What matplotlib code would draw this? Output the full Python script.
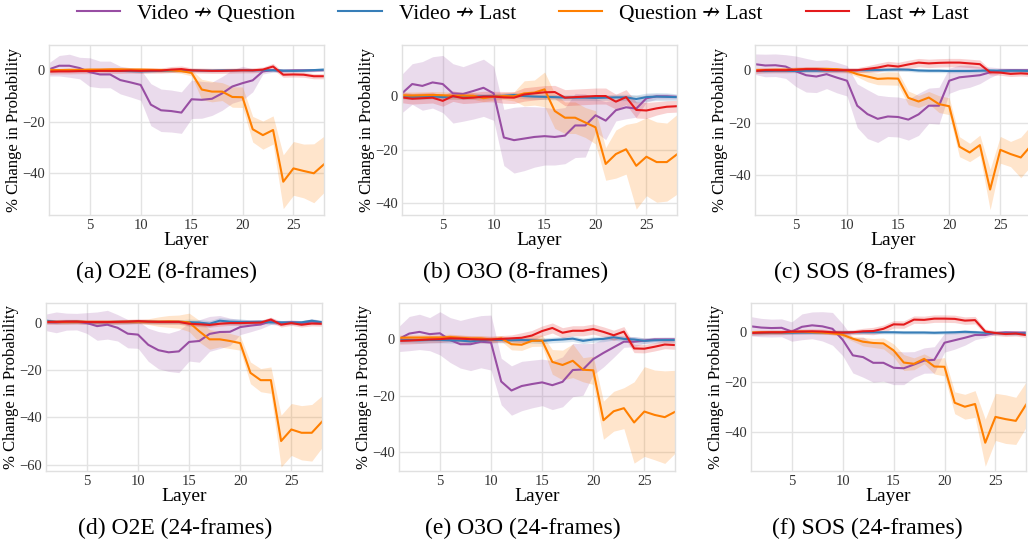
import numpy as np
import matplotlib
matplotlib.use("Agg")
import matplotlib.pyplot as plt

plt.rcParams["font.family"] = ["Liberation Serif", "DejaVu Serif"]
plt.rcParams["axes.unicode_minus"] = True

layers = list(range(1, 29))
series_names = ["Video \u219b Question", "Video \u219b Last", "Question \u219b Last", "Last \u219b Last"]
colors = ["#984ea3", "#377eb8", "#ff7f00", "#e41a1c"]

# (a) O2E (8-frames)
a_vq = [0.4, 1.8, 1.8, 0.9, -0.7, -1.6, -1.6, -3.8, -4.7, -5.7, -13.4, -15.6, -15.9, -16.5, -11.3, -11.5, -11.1, -9.0, -6.3, -5.0, -3.9, -0.4, 0.1, -0.2, 0.0, 0.0, 0.0, 0.1]
a_vq_sd = [2.6, 4.0, 4.5, 4.2, 5.6, 5.2, 5.2, 5.4, 5.7, 6.0, 8.2, 8.3, 8.2, 8.1, 7.5, 7.2, 6.5, 6.6, 6.5, 6.6, 4.5, 1.0, 0.8, 0.6, 0.5, 0.5, 0.5, 0.5]
a_vl = [-0.1, 0.0, 0.0, -0.1, 0.0, 0.0, -0.1, -0.2, -0.3, -0.4, -0.3, -0.2, -0.1, 0.0, 0.0, -0.1, -0.1, 0.0, 0.0, 0.1, 0.0, 0.1, 0.0, -0.1, -0.2, -0.1, 0.1, 0.3]
a_vl_sd = [0.5, 0.5, 0.5, 0.5, 0.5, 0.5, 0.5, 0.5, 0.5, 0.6, 0.6, 0.6, 0.6, 0.6, 0.6, 0.6, 0.6, 0.6, 0.6, 0.6, 0.6, 0.6, 0.6, 0.6, 0.6, 0.6, 0.6, 0.6]
a_ql = [0.2, 0.1, 0.2, 0.2, 0.3, 0.3, 0.4, 0.4, 0.3, 0.3, 0.2, 0.1, 0.0, -0.3, -1.0, -7.5, -8.3, -8.3, -10.4, -10.5, -23.0, -25.3, -23.3, -43.5, -38.3, -39.3, -40.2, -36.7]
a_ql_sd = [0.6, 0.6, 0.6, 0.6, 0.6, 0.6, 0.7, 0.8, 0.8, 0.8, 0.8, 0.8, 0.8, 0.9, 1.2, 4.0, 4.0, 3.5, 4.0, 4.0, 5.0, 5.5, 5.5, 10.5, 10.5, 10.5, 11.5, 11.0]
a_ll = [-0.5, -0.4, -0.4, -0.3, -0.3, -0.2, -0.2, -0.2, -0.1, -0.2, -0.1, -0.1, 0.3, 0.5, 0.0, -0.1, -0.2, -0.2, -0.1, 0.0, 0.0, 0.3, 1.5, -1.7, -1.6, -1.7, -2.3, -2.3]
a_ll_sd = [1.0, 1.0, 1.0, 1.0, 1.0, 1.0, 1.0, 1.0, 1.0, 1.0, 1.0, 1.0, 1.2, 1.2, 1.0, 1.0, 1.0, 1.0, 1.0, 1.0, 1.0, 1.0, 1.2, 1.0, 1.0, 1.0, 1.0, 1.0]

# (b) O3O (8-frames)
b_vq = [1.1, 4.6, 3.9, 5.2, 4.6, 1.1, 0.9, 2.0, 3.2, 1.1, -15.4, -16.4, -15.8, -15.2, -14.9, -15.2, -14.7, -10.9, -10.9, -7.1, -9.1, -5.2, -4.1, -4.6, -0.7, 0.0, 0.0, -0.2]
b_vq_sd = [7.2, 7.6, 9.1, 9.6, 10.7, 11.1, 10.2, 10.5, 10.7, 10.1, 10.5, 12.3, 12.0, 11.3, 10.8, 10.5, 10.5, 12.0, 11.8, 6.2, 7.1, 4.0, 4.3, 3.2, 1.5, 1.0, 1.0, 0.8]
b_vl = [0.0, -0.2, -0.1, 0.0, -0.3, 0.0, -0.2, -0.1, 0.0, 0.0, 0.2, 0.5, 0.1, -0.1, -0.2, -0.3, -0.5, -0.5, -0.5, -0.6, -0.5, -0.4, -0.4, -1.0, -0.3, -0.1, -0.2, -0.3]
b_vl_sd = [1.0, 1.0, 1.0, 1.0, 1.0, 1.0, 1.0, 1.0, 1.0, 1.0, 1.0, 1.0, 1.0, 1.0, 1.0, 1.0, 1.0, 1.0, 1.0, 1.0, 1.0, 1.2, 1.2, 1.5, 1.5, 1.5, 1.5, 1.2]
b_ql = [0.4, 0.3, 0.4, 0.5, 0.4, 0.2, 0.3, 0.2, -0.7, -0.1, 0.1, 0.0, 1.1, 1.4, 2.6, -5.5, -8.0, -8.0, -9.8, -11.6, -25.3, -21.6, -19.8, -26.0, -22.6, -24.6, -24.6, -21.7]
b_ql_sd = [1.3, 1.3, 1.3, 1.3, 1.3, 1.3, 1.3, 1.3, 1.3, 1.3, 1.3, 1.7, 4.7, 4.7, 6.5, 6.5, 5.9, 5.9, 5.6, 6.2, 6.1, 9.0, 9.3, 16.2, 14.6, 15.0, 14.6, 14.9]
b_ll = [-0.4, -0.9, -0.7, -0.5, -1.7, 0.1, -0.7, -0.5, -0.1, -0.1, -0.4, -0.5, 0.7, 1.1, 1.5, 1.6, -0.5, -0.3, -0.1, 0.1, 0.1, -2.0, -0.3, -5.1, -5.3, -4.5, -3.9, -3.7]
b_ll_sd = [2.0, 2.0, 2.0, 2.0, 2.0, 2.0, 2.0, 2.0, 2.0, 2.0, 2.2, 2.2, 2.5, 2.5, 2.5, 2.5, 3.0, 3.0, 3.0, 3.0, 3.0, 2.8, 2.8, 3.0, 3.0, 2.5, 2.2, 2.2]

# (c) SOS (8-frames)
c_vq = [2.3, 1.8, 1.9, 1.4, -0.4, -1.9, -2.4, -1.5, -2.8, -4.0, -13.5, -16.7, -18.5, -17.6, -17.8, -18.8, -16.8, -13.5, -13.5, -4.0, -2.7, -2.3, -1.9, -0.8, -0.1, 0.0, 0.0, 0.0]
c_vq_sd = [3.9, 4.3, 4.3, 4.5, 5.8, 6.4, 6.1, 5.5, 5.8, 5.8, 8.3, 9.3, 9.0, 7.6, 7.6, 7.8, 8.0, 6.7, 7.0, 4.8, 4.6, 4.2, 3.2, 2.0, 1.0, 0.8, 0.8, 0.8]
c_vl = [-0.2, -0.3, -0.2, -0.2, -0.3, -0.2, -0.2, -0.1, -0.1, 0.0, 0.0, 0.0, 0.1, 0.2, 0.3, 0.2, -0.1, -0.2, -0.2, -0.3, -0.3, -0.3, -0.2, -0.1, -0.2, -0.2, -0.2, -0.3]
c_vl_sd = [0.7, 0.7, 0.7, 0.7, 0.7, 0.7, 0.7, 0.7, 0.7, 0.7, 0.7, 0.7, 0.7, 0.7, 0.7, 0.7, 0.7, 0.7, 0.7, 0.7, 0.7, 0.7, 0.7, 0.7, 0.7, 0.7, 0.7, 0.7]
c_ql = [0.1, 0.1, 0.2, 0.2, 0.3, 0.5, 0.5, 0.5, 0.4, -0.1, -1.5, -2.4, -3.3, -3.1, -3.2, -10.5, -11.9, -10.4, -12.9, -13.7, -29.1, -31.3, -28.5, -45.4, -30.3, -31.9, -33.2, -28.7]
c_ql_sd = [0.6, 0.6, 0.6, 0.6, 0.6, 0.6, 0.6, 0.6, 0.6, 0.8, 1.0, 2.0, 2.2, 2.5, 2.5, 2.6, 2.3, 2.3, 3.2, 3.2, 3.8, 3.5, 3.8, 7.7, 5.1, 4.8, 7.7, 7.7]
c_ll = [-0.3, 0.0, 0.0, 0.0, 0.2, 0.4, 0.4, 0.1, 0.0, 0.0, 0.0, 0.5, 1.0, 1.8, 1.4, 2.2, 2.9, 2.6, 2.8, 2.9, 2.9, 2.6, 2.3, -0.8, -0.9, -1.4, -1.2, -1.4]
c_ll_sd = [1.0, 1.0, 1.0, 1.0, 1.0, 1.0, 1.0, 1.0, 1.0, 1.0, 1.0, 1.2, 1.6, 1.6, 1.6, 1.6, 1.6, 1.6, 1.6, 1.6, 1.6, 1.6, 1.6, 1.0, 1.0, 1.0, 1.0, 1.0]

# (d) O2E (24-frames)
d_vq = [0.3, 0.3, 0.6, 0.6, 0.0, -1.3, -0.7, -2.0, -4.5, -4.9, -9.2, -11.5, -12.4, -12.0, -8.0, -7.6, -4.6, -3.8, -3.7, -1.7, -1.1, -0.6, 0.8, 0.0, 0.4, 0.0, 0.7, 0.3]
d_vq_sd = [3.5, 4.4, 3.6, 3.5, 4.4, 6.0, 6.1, 5.6, 6.0, 5.8, 7.0, 7.9, 8.1, 9.0, 8.1, 9.0, 7.4, 7.0, 5.8, 3.2, 2.6, 1.8, 1.4, 1.0, 1.0, 1.0, 1.0, 1.0]
d_vl = [1.0, 0.5, 0.5, 0.6, 0.4, 0.4, 0.4, 0.5, 0.5, 0.7, 0.6, 0.5, 0.5, 0.5, 0.4, 0.2, -0.3, 1.0, 0.6, 0.5, 0.5, 0.6, 0.3, 0.3, 0.2, 0.3, 1.0, 0.3]
d_vl_sd = [0.8, 0.8, 0.8, 0.8, 0.8, 0.8, 0.8, 0.8, 0.8, 0.8, 0.8, 0.8, 0.8, 0.8, 1.3, 1.3, 1.3, 1.3, 1.3, 1.3, 0.8, 0.8, 0.8, 0.8, 0.8, 0.8, 0.8, 0.8]
d_ql = [0.5, 0.5, 0.5, 0.6, 0.5, 0.5, 0.5, 0.5, 0.6, 0.6, 0.6, 0.6, 0.7, 0.6, 0.3, -3.5, -6.9, -6.9, -7.6, -8.5, -21.1, -24.2, -24.2, -50.0, -45.1, -46.5, -46.5, -41.8]
d_ql_sd = [0.8, 0.8, 0.8, 0.8, 0.8, 0.8, 0.8, 0.8, 0.8, 0.8, 1.2, 2.0, 2.5, 2.8, 3.9, 4.6, 4.2, 3.2, 3.2, 3.0, 4.6, 4.9, 5.6, 11.0, 11.0, 11.5, 12.0, 11.0]
d_ll = [0.5, 0.5, 0.6, 0.6, 0.4, 0.4, 0.4, 0.5, 0.6, 0.8, 0.6, 0.5, 0.5, 0.5, -0.3, -0.5, -0.8, -0.3, 0.0, 0.0, 0.1, 0.2, 1.5, -0.7, 0.0, -0.7, -0.2, -0.3]
d_ll_sd = [1.0, 1.0, 1.0, 1.0, 1.0, 1.0, 1.0, 1.0, 1.0, 1.0, 1.0, 1.0, 1.0, 1.0, 1.0, 1.0, 1.0, 1.0, 1.0, 1.0, 1.0, 1.0, 1.0, 1.0, 1.0, 1.0, 1.0, 1.0]

# (e) O3O (24-frames)
e_vq = [0.2, 2.1, 2.7, 1.9, 2.2, -0.2, -1.7, -1.7, -0.8, -1.1, -15.0, -18.2, -16.6, -15.9, -15.3, -16.3, -15.1, -10.9, -10.7, -7.0, -4.8, -2.8, -0.8, -0.8, -0.4, 0.0, 0.0, 0.0]
e_vq_sd = [4.5, 6.1, 6.3, 5.9, 7.7, 8.0, 8.5, 9.4, 9.3, 9.8, 8.3, 8.8, 8.8, 8.5, 8.3, 8.7, 8.9, 9.5, 9.2, 5.6, 5.0, 3.6, 2.0, 1.8, 1.0, 0.8, 0.8, 0.8]
e_vl = [-0.3, -0.2, -0.3, -0.2, -0.2, -0.3, -0.4, -0.7, -0.3, -0.2, -0.2, -0.3, -0.2, -0.3, -0.5, -0.2, 0.0, 0.3, -0.5, 0.0, 0.2, 0.8, 0.2, 0.0, -0.5, -0.3, -0.2, -0.2]
e_vl_sd = [1.0, 1.0, 1.0, 1.0, 1.0, 1.0, 1.0, 1.0, 1.0, 1.0, 1.0, 1.0, 1.0, 1.0, 1.0, 1.0, 1.0, 1.0, 1.0, 1.0, 1.0, 1.0, 1.0, 1.0, 1.0, 1.0, 1.0, 1.0]
e_ql = [0.6, 0.7, 0.7, 0.7, 0.7, 0.9, 0.6, 0.4, 0.4, 0.0, 0.4, -1.7, -1.9, -0.5, -0.4, -8.0, -9.1, -7.6, -10.8, -11.0, -28.8, -25.6, -24.5, -29.6, -25.7, -26.9, -27.7, -25.8]
e_ql_sd = [1.0, 1.0, 1.0, 1.0, 1.0, 1.0, 1.0, 1.0, 1.0, 1.0, 1.0, 2.0, 2.0, 2.0, 2.0, 4.4, 5.3, 6.0, 4.3, 5.0, 6.8, 7.1, 7.3, 14.5, 16.0, 16.0, 16.5, 14.8]
e_ll = [-0.5, -0.4, -0.2, 0.0, 0.1, 0.4, 0.3, 0.1, 0.0, 0.0, 0.2, 0.4, 0.6, 1.4, 3.0, 4.1, 2.4, 3.1, 3.1, 3.7, 2.7, 1.5, 2.8, -3.2, -3.3, -2.6, -1.8, -2.0]
e_ll_sd = [1.2, 1.2, 1.2, 1.2, 1.2, 1.2, 1.2, 1.2, 1.2, 1.2, 1.2, 1.2, 1.8, 1.8, 1.8, 1.8, 1.8, 1.8, 1.8, 1.8, 1.8, 1.8, 1.8, 1.5, 1.5, 1.5, 1.5, 1.5]

# (f) SOS (24-frames)
f_vq = [2.4, 1.9, 1.7, 1.8, 0.3, 2.2, 2.8, 2.4, 1.4, -3.0, -9.3, -10.0, -12.3, -12.3, -14.3, -14.5, -13.0, -11.4, -11.1, -4.2, -3.2, -2.2, -1.1, -1.1, -0.3, 0.0, -0.1, -0.1]
f_vq_sd = [3.9, 3.7, 3.6, 3.6, 3.9, 5.2, 5.4, 5.9, 6.6, 6.4, 7.1, 8.1, 7.8, 7.4, 6.8, 6.6, 5.2, 5.1, 5.3, 3.8, 3.6, 3.0, 1.9, 1.0, 0.6, 0.6, 0.6, 0.6]
f_vl = [-0.3, -0.3, -0.2, -0.2, -0.2, -0.1, -0.1, -0.1, -0.1, -0.1, 0.0, 0.0, 0.0, 0.0, 0.0, -0.1, -0.1, -0.1, -0.2, -0.1, 0.0, 0.2, 0.0, -0.2, -0.3, -0.5, -0.5, -0.5]
f_vl_sd = [0.7, 0.7, 0.7, 0.7, 0.7, 0.7, 0.7, 0.7, 0.7, 0.7, 0.7, 0.7, 0.7, 0.7, 0.7, 0.7, 0.7, 0.7, 0.7, 0.7, 0.7, 0.7, 0.7, 0.7, 0.7, 0.7, 0.7, 0.7]
f_ql = [-0.1, 0.0, 0.0, 0.0, 0.1, 0.3, 0.1, -0.1, -0.4, -1.0, -2.6, -3.8, -4.3, -4.5, -7.3, -12.2, -12.7, -10.7, -13.8, -13.9, -28.4, -30.0, -28.9, -44.5, -34.1, -35.0, -35.7, -29.2]
f_ql_sd = [0.6, 0.6, 0.6, 0.6, 0.6, 0.6, 0.6, 0.6, 0.6, 0.8, 1.0, 1.7, 1.8, 2.2, 2.6, 3.2, 2.4, 2.0, 3.0, 3.7, 4.4, 5.0, 5.4, 9.5, 9.5, 9.8, 9.5, 9.1]
f_ll = [-0.3, -0.1, 0.0, 0.0, 0.3, 0.3, 0.4, 0.3, 0.0, -0.1, 0.0, 0.4, 0.5, 1.4, 3.2, 3.1, 5.1, 5.0, 5.5, 5.5, 5.4, 4.7, 4.9, 0.3, -0.3, -0.7, -0.5, -1.1]
f_ll_sd = [1.0, 1.0, 1.0, 1.0, 1.0, 1.0, 1.0, 1.0, 1.0, 1.0, 1.0, 1.2, 1.5, 1.5, 1.5, 1.5, 1.5, 1.5, 1.5, 1.5, 1.5, 1.5, 1.5, 1.0, 1.0, 1.0, 1.0, 1.0]

captions = ["(a) O2E (8-frames)", "(b) O3O (8-frames)", "(c) SOS (8-frames)",
            "(d) O2E (24-frames)", "(e) O3O (24-frames)", "(f) SOS (24-frames)"]
panel_data = [
    [(a_vq, a_vq_sd), (a_vl, a_vl_sd), (a_ql, a_ql_sd), (a_ll, a_ll_sd)],
    [(b_vq, b_vq_sd), (b_vl, b_vl_sd), (b_ql, b_ql_sd), (b_ll, b_ll_sd)],
    [(c_vq, c_vq_sd), (c_vl, c_vl_sd), (c_ql, c_ql_sd), (c_ll, c_ll_sd)],
    [(d_vq, d_vq_sd), (d_vl, d_vl_sd), (d_ql, d_ql_sd), (d_ll, d_ll_sd)],
    [(e_vq, e_vq_sd), (e_vl, e_vl_sd), (e_ql, e_ql_sd), (e_ll, e_ll_sd)],
    [(f_vq, f_vq_sd), (f_vl, f_vl_sd), (f_ql, f_ql_sd), (f_ll, f_ll_sd)],
]
ylims = [(-56.5, 9.9), (-44.4, 19.2), (-55.1, 9.6), (-62.7, 8.5), (-46.9, 13.0), (-55.9, 11.8)]

W, H = 1028, 542
# axes boxes in pixels: left, right, top, bottom
boxes = [(49, 324, 45, 215), (402, 677, 45, 215), (755, 1031, 45, 215),
         (46, 322, 303, 471), (399, 675, 303, 471), (751, 1026, 303, 471)]
ylab_x = [14, 367, 720, 11, 364, 716]
cap_pos = [(166, 272), (516, 272), (865, 272), (175, 528), (523, 528), (867, 528)]

fig = plt.figure(figsize=(W / 100, H / 100), dpi=100)
x = np.array(layers)
handles = []
for i in range(6):
    l, r, t, b = boxes[i]
    ax = fig.add_axes([l / W, 1 - b / H, (r - l) / W, (b - t) / H])
    ax.set_facecolor("white")
    for j, (m, sd) in enumerate(panel_data[i]):
        m = np.array(m)
        sd = np.array(sd)
        ax.fill_between(x, m - sd, m + sd, color=colors[j], alpha=0.2, linewidth=0)
        ln, = ax.plot(x, m, color=colors[j], linewidth=1.5, label=series_names[j])
        if i == 0:
            handles.append(ln)
    ax.set_xlim(1, 28)
    ax.set_ylim(*ylims[i])
    ax.set_xticks([5, 10, 15, 20, 25])
    ax.grid(True, color="#e3e3e3", linewidth=1.0)
    ax.set_axisbelow(True)
    for s in ax.spines.values():
        s.set_color("#e0e0e0")
        s.set_linewidth(1.0)
    ax.tick_params(length=0, labelsize=10.5, colors="#333333", pad=3)
    ax.set_xlabel("Layer", fontsize=14, labelpad=0)
    ax.set_ylabel("% Change in Probability", fontsize=12, va="center")
    ax.yaxis.set_label_coords((ylab_x[i] - l) / (r - l), 0.5)
    cx, cy = cap_pos[i]
    fig.text(cx / W, 1 - cy / H, captions[i], ha="center", va="center", fontsize=17)

fig.legend(handles, series_names, loc="center", bbox_to_anchor=(523 / W, 1 - 14 / H),
           ncol=4, frameon=False, fontsize=15.5, handlelength=2.0, handletextpad=0.8,
           columnspacing=2.0)

fig.savefig("out.png", dpi=100)
